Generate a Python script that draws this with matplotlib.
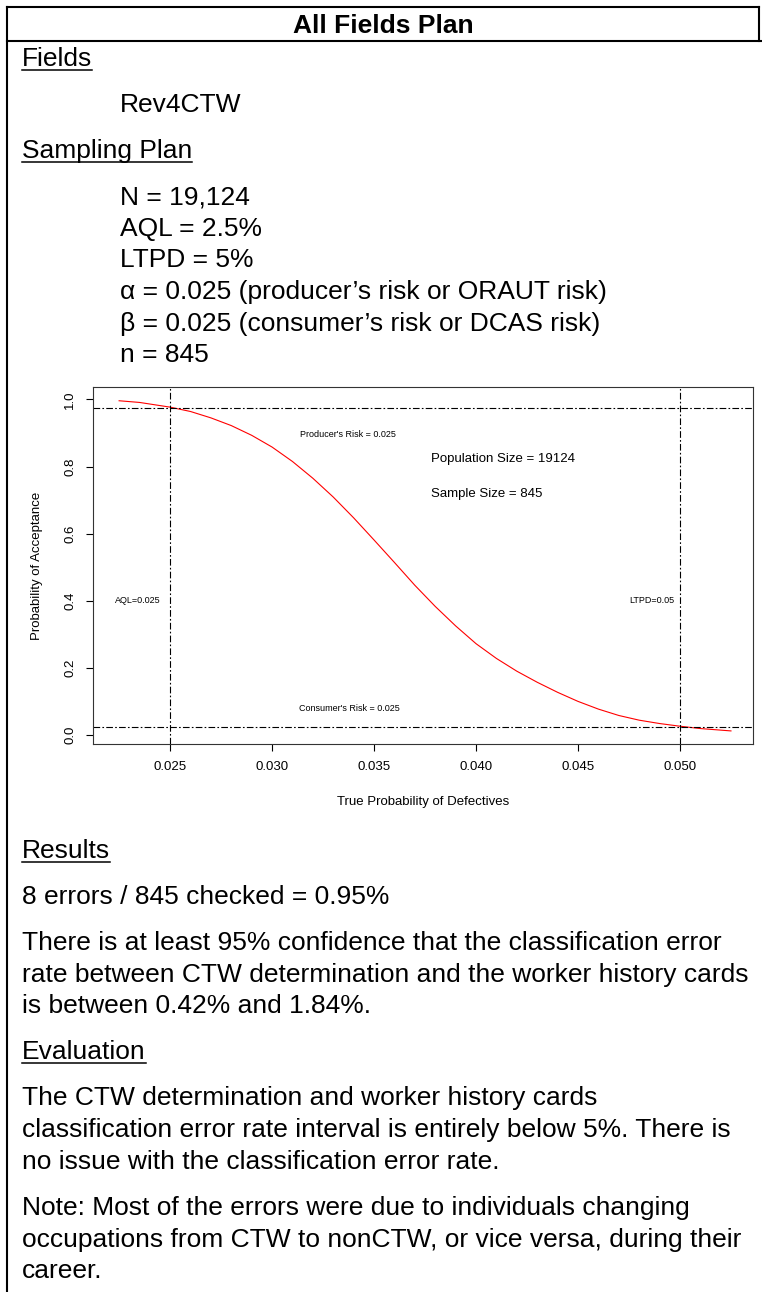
import matplotlib
matplotlib.use('Agg')
import matplotlib.pyplot as plt
from matplotlib.lines import Line2D

plt.rcParams['font.family'] = ['Liberation Sans', 'DejaVu Sans']

# ── page size in pixels (dpi 100) ──
W, H = 762, 1292

# ── OC curve ──
true_p = [0.0225, 0.0235, 0.0250, 0.0260, 0.0270, 0.0280, 0.0290, 0.0300, 0.0310,
          0.0320, 0.0330, 0.0340, 0.0350, 0.0360, 0.0370, 0.0380, 0.0390, 0.0400,
          0.0410, 0.0420, 0.0430, 0.0440, 0.0450, 0.0460, 0.0470, 0.0480, 0.0490,
          0.0500, 0.0510, 0.0525]
prob_accept = [0.996, 0.991, 0.977, 0.964, 0.945, 0.922, 0.893, 0.858, 0.815,
               0.765, 0.709, 0.647, 0.581, 0.514, 0.446, 0.383, 0.325, 0.272,
               0.228, 0.190, 0.157, 0.127, 0.100, 0.077, 0.058, 0.044, 0.034,
               0.026, 0.019, 0.012]

# ── plan parameters ──
aql, ltpd = 0.025, 0.05
alpha, beta = 0.025, 0.025
pop_size, sample_size = 19124, 845

x_ticks = [0.025, 0.030, 0.035, 0.040, 0.045, 0.050]
y_ticks = [0.0, 0.2, 0.4, 0.6, 0.8, 1.0]

# ── document text ──
title = 'All Fields Plan'
fields = ['Rev4CTW']
plan_lines = ['N = 19,124', 'AQL = 2.5%', 'LTPD = 5%',
              '\u03b1 = 0.025 (producer\u2019s risk or ORAUT risk)',
              '\u03b2 = 0.025 (consumer\u2019s risk or DCAS risk)',
              'n = 845']
results = ['8 errors / 845 checked = 0.95%']
confidence = ['There is at least 95% confidence that the classification error',
              'rate between CTW determination and the worker history cards',
              'is between 0.42% and 1.84%.']
evaluation = ['The CTW determination and worker history cards',
              'classification error rate interval is entirely below 5%. There is',
              'no issue with the classification error rate.']
note = ['Note: Most of the errors were due to individuals changing',
        'occupations from CTW to nonCTW, or vice versa, during their',
        'career.']

BODY = 19
PARA = 46      # baseline step between paragraphs
LINE = 31.7    # baseline step inside a paragraph

fig = plt.figure(figsize=(W / 100, H / 100), dpi=100)
underlined = []


def put(x, y, s, size=BODY, weight='normal', ha='left', underline=False):
    t = fig.text(x / W, 1 - y / H, s, fontsize=size, fontweight=weight,
                 ha=ha, va='baseline', color='black')
    if underline:
        underlined.append((t, y))
    return t


def hline_px(x0, x1, y, lw=1.5):
    fig.add_artist(Line2D([x0 / W, x1 / W], [1 - y / H, 1 - y / H],
                          transform=fig.transFigure, color='black', lw=lw))


def vline_px(x, y0, y1, lw=1.5):
    fig.add_artist(Line2D([x / W, x / W], [1 - y0 / H, 1 - y1 / H],
                          transform=fig.transFigure, color='black', lw=lw))


# ── table borders ──
hline_px(7, 759, 7)
hline_px(7, W, 41)
vline_px(7, 7, H)
vline_px(759, 7, 41)

put(383, 33, title, size=19, weight='bold', ha='center')

y = 66
put(22, y, 'Fields', underline=True)
for s in fields:
    y += PARA
    put(120, y, s)
y += PARA
put(22, y, 'Sampling Plan', underline=True)
y += PARA
for i, s in enumerate(plan_lines):
    put(120, y + i * LINE, s)

# ── lower section ──
y = 858
put(22, y, 'Results', underline=True)
for s in results:
    y += PARA
    put(22, y, s)
y += PARA
for i, s in enumerate(confidence):
    put(22, y + i * LINE, s)
y += (len(confidence) - 1) * LINE + PARA
put(22, y, 'Evaluation', underline=True)
y += PARA
for i, s in enumerate(evaluation):
    put(22, y + i * LINE, s)
y += (len(evaluation) - 1) * LINE + PARA
for i, s in enumerate(note):
    put(22, y + i * LINE, s)

# ── OC curve panel ──
ax = fig.add_axes([93 / W, 1 - 744 / H, 660 / W, 357 / H])
ax.plot(true_p, prob_accept, color='red', lw=0.8)

dd = dict(color='black', lw=0.8, dashes=(6, 2, 1.5, 2))
ax.axhline(1 - alpha, **dd)
ax.axhline(beta, **dd)
ax.axvline(aql, **dd)
ax.axvline(ltpd, **dd)

ax.set_xlim(0.02122, 0.05358)
ax.set_ylim(-0.027, 1.037)
ax.set_xticks(x_ticks)
ax.set_xticklabels([f'{v:.3f}' for v in x_ticks])
ax.set_yticks(y_ticks)
ax.set_yticklabels([f'{v:.1f}' for v in y_ticks], rotation=90, va='center')
ax.tick_params(direction='out', length=5, width=0.8, pad=7, labelsize=9.5)
for sp in ax.spines.values():
    sp.set_color('#333333')
    sp.set_linewidth(0.8)

ax.set_xlabel('True Probability of Defectives', fontsize=9.5)
ax.set_ylabel('Probability of Acceptance', fontsize=9.5)
ax.xaxis.set_label_coords(0.5, -0.1625)
ax.xaxis.label.set_va('center')
ax.yaxis.set_label_coords(-0.085, 0.5)
ax.yaxis.label.set_va('center')

small = 6.5
ax.text(0.0337, 0.895, f"Producer's Risk = {alpha}", fontsize=small, ha='center', va='center')
ax.text(0.0338, 0.078, f"Consumer's Risk = {beta}", fontsize=small, ha='center', va='center')
ax.text(0.0378, 0.822, f'Population Size = {pop_size}', fontsize=9.5, ha='left', va='center')
ax.text(0.0378, 0.718, f'Sample Size = {sample_size}', fontsize=9.5, ha='left', va='center')
ax.text(0.0234, 0.40, f'AQL={aql}', fontsize=small, ha='center', va='center')
ax.text(0.0486, 0.40, f'LTPD={ltpd}', fontsize=small, ha='center', va='center')

# ── underlines from the rendered text extents ──
fig.canvas.draw()
renderer = fig.canvas.get_renderer()
for t, yb in underlined:
    bb = t.get_window_extent(renderer)
    hline_px(bb.x0, bb.x1, yb + 4, lw=1.1)

fig.savefig('out.png', dpi=100)
